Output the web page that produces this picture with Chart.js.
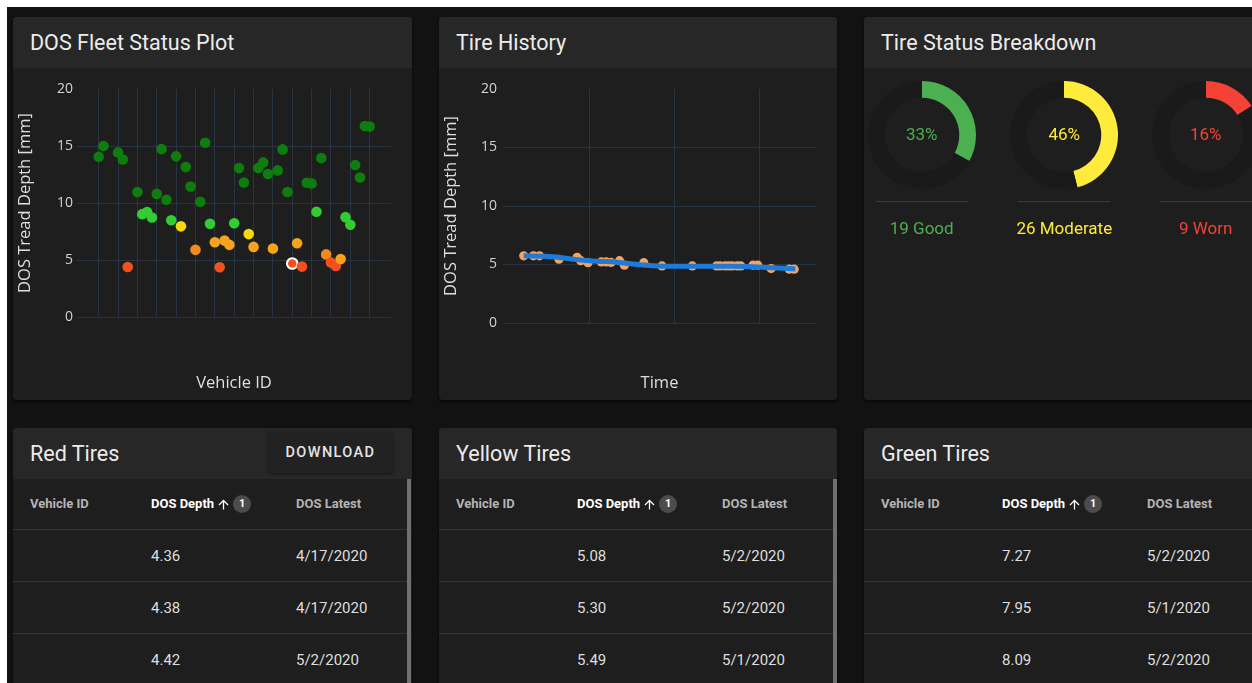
<!DOCTYPE html>
<html>
<head>
<meta charset="utf-8">
<title>DOS Fleet Dashboard</title>
<script src="https://cdn.jsdelivr.net/npm/chart.js@4.4.0/dist/chart.umd.min.js"></script>
<style>
	html, body { margin: 0; padding: 0; }
	body { width: 1252px; height: 683px; overflow: hidden; background: #ffffff; position: relative; font-family: Roboto, "Noto Sans", sans-serif; }
	.page { position: absolute; left: 7px; top: 7px; width: 1245px; height: 676px; background: #121212; }
	.card { position: absolute; background: #1e1e1e; border-radius: 4px; overflow: hidden; box-shadow: 0 2px 3px rgba(0,0,0,0.6); }
	.card__head { position: relative; height: 51px; background: #272727; color: #ececec; font-size: 21.5px; line-height: 51px; padding-left: 17px; }
	.card__body { position: absolute; left: 0; top: 51px; right: 0; bottom: 0; }
	.card__body canvas { position: absolute; left: 0; top: 0; }
	.btn { position: absolute; left: 255px; top: 4px; width: 125px; height: 41px; background: #222222; border-radius: 4px; box-shadow: 0 1px 3px rgba(0,0,0,0.5); color: #e4e4e4; font-size: 14.5px; font-weight: 500; letter-spacing: 1.4px; line-height: 41px; text-align: center; }
	.donut { position: absolute; width: 108px; height: 108px; }
	.donut__pct { position: absolute; width: 120px; margin-left: -60px; font-size: 17px; text-align: center; line-height: 20px; }
	.donut__line { position: absolute; width: 92px; margin-left: -46px; height: 1px; background: #3a3a3a; }
	.donut__label { position: absolute; width: 140px; margin-left: -70px; font-size: 17px; text-align: center; line-height: 20px; }
	.tbl { position: absolute; left: 0; top: 51px; right: 0; bottom: 0; }
	.tbl__row { position: relative; height: 51px; border-bottom: 1px solid #343434; }
	.tbl__row--head { height: 50px; }
	.tbl__cell { position: absolute; top: 0; line-height: 52px; font-size: 15px; color: #dedede; white-space: nowrap; }
	.tbl__row--head .tbl__cell { line-height: 50px; font-size: 13px; font-weight: 700; color: #b4b4b4; }
	.tbl__row--head .tbl__cell--sorted { color: #ffffff; display: flex; align-items: center; height: 50px; }
	.sort-arrow { width: 15px; height: 15px; margin-left: 2px; }
	.badge { display: inline-block; width: 18px; height: 18px; border-radius: 9px; background: #4c4c4c; color: #fff; font-size: 11px; line-height: 18px; text-align: center; margin-left: 2px; }
	.scroll { position: absolute; left: 394px; top: 51px; width: 4px; bottom: 0; background: #707070; }
</style>
</head>
<body>
<div class="page"></div>

<div class="card" style="left:13px; top:17px; width:399px; height:383px;">
	<div class="card__head">DOS Fleet Status Plot</div>
	<div class="card__body"><canvas id="fleet" width="399" height="332"></canvas></div>
</div>

<div class="card" style="left:439px; top:17px; width:398px; height:383px;">
	<div class="card__head">Tire History</div>
	<div class="card__body"><canvas id="history" width="398" height="332"></canvas></div>
</div>

<div class="card" id="statusCard" style="left:864px; top:17px; width:400px; height:383px;">
	<div class="card__head">Tire Status Breakdown</div>
</div>

<div class="card" id="redCard" style="left:13px; top:428px; width:399px; height:300px;">
	<div class="card__head">Red Tires<div class="btn">DOWNLOAD</div></div>
</div>

<div class="card" id="yellowCard" style="left:439px; top:428px; width:398px; height:300px;">
	<div class="card__head">Yellow Tires</div>
</div>

<div class="card" id="greenCard" style="left:864px; top:428px; width:400px; height:300px;">
	<div class="card__head">Green Tires</div>
</div>

<script>
//fleet plot: one slot per vehicle, null = no reading
const vehicleDepth = [
	14.06, 15.0, null, null, 14.44, 13.82, 4.38, null, 10.96, 9.02,
	9.2, 8.73, 10.8, 14.73, 10.28, 8.49, 14.09, 7.95, 13.15, 11.45,
	5.89, 10.1, 15.29, 8.17, 6.56, 4.36, 6.7, 6.33, 8.23, 13.06,
	11.8, 7.27, 6.15, 13.06, 13.56, 12.54, 6.0, 12.86, 14.7, 10.96,
	4.69, 6.47, 4.42, 11.77, 11.72, 9.23, 13.94, 5.49, 4.77, 4.48,
	5.08, 8.76, 8.09, 13.33, 12.24, 16.76, 16.7
]
const vehicleGrid = [0, 4, 8, 12, 16, 20, 24, 28, 32, 36, 40, 44, 48, 52, 56]
const depthTicks = [0, 5, 10, 15, 20]
const selectedVehicle = 40

//tire history of the selected tire (x = days)
const historyDay = [1.6, 2.4, 2.9, 4.5, 6.0, 6.3, 6.9, 8.0, 8.4, 8.8, 9.5, 9.9, 11.5, 13.0, 15.5, 17.5, 17.8, 18.2, 18.5, 18.8, 19.2, 19.5, 20.5, 20.9, 22.0, 23.5, 23.9]
const historyDepth = [5.74, 5.74, 5.74, 5.45, 5.62, 5.33, 5.15, 5.22, 5.22, 5.18, 5.33, 4.94, 5.16, 4.88, 4.88, 4.88, 4.88, 4.88, 4.88, 4.88, 4.88, 4.88, 4.94, 4.94, 4.65, 4.6, 4.6]
const trendDay = [1.6, 3.8, 5.7, 7.6, 9.3, 11.2, 13.1, 18.6, 21.3, 24.0]
const trendDepth = [5.74, 5.68, 5.45, 5.28, 5.2, 4.97, 4.86, 4.84, 4.77, 4.62]
const historyGrid = [7, 14, 21]

//status breakdown
const statusNames = ["Good", "Moderate", "Worn"]
const statusCounts = [19, 26, 9]
const statusPct = [33, 46, 16]

//tables
const tableColumns = ["Vehicle ID", "DOS Depth", "DOS Latest"]
const redDepth = ["4.36", "4.38", "4.42"]
const redLatest = ["4/17/2020", "4/17/2020", "5/2/2020"]
const yellowDepth = ["5.08", "5.30", "5.49"]
const yellowLatest = ["5/2/2020", "5/2/2020", "5/1/2020"]
const greenDepth = ["7.27", "7.95", "8.09"]
const greenLatest = ["5/2/2020", "5/1/2020", "5/2/2020"]

const GRID = "#283442"
const TICK = "#cfd3d8"
const statusColors = ["#4caf50", "#ffeb3b", "#f44336"]

Chart.defaults.font.family = "'Open Sans', sans-serif"
Chart.defaults.animation = false

function depthColor(v) {
	if (v < 5) return "#f4511e"
	if (v < 5.2) return "#f7a31c"
	if (v < 6) return "#f28a1f"
	if (v < 7) return "#f7a31c"
	if (v < 8) return "#f6d90c"
	if (v < 9.5) return "#33cc33"
	return "#0e7d0e"
}

function yAxis(width, pad) {
	return {
		min: 0,
		max: 20,
		afterBuildTicks: s => { s.ticks = depthTicks.map(v => ({ value: v })) },
		afterFit: s => { s.width = width },
		border: { display: false },
		grid: { color: c => c.tick && c.tick.value === 20 ? "rgba(0,0,0,0)" : GRID, drawTicks: false },
		ticks: { color: TICK, font: { size: 14 }, padding: pad },
		title: { display: true, text: "DOS Tread Depth [mm]", color: "#dcdfe3", font: { size: 16.5 }, padding: { top: 2, bottom: 0 } }
	}
}

function xAxis(min, max, grid, height, label) {
	return {
		type: "linear",
		min: min,
		max: max,
		afterBuildTicks: s => { s.ticks = grid.map(v => ({ value: v })) },
		afterFit: s => { s.height = height },
		border: { display: false },
		grid: { color: GRID, drawTicks: false },
		ticks: { display: false },
		title: { display: true, text: label, color: "#dcdfe3", font: { size: 16.5 }, padding: { top: 0, bottom: 7 } }
	}
}

//renderFleetPlot
function renderFleetPlot() {
	let points = []
	vehicleDepth.forEach((v, i) => {
		if (v !== null) points.push({ x: i, y: v })
	})
	new Chart(document.getElementById("fleet"), {
		type: "scatter",
		data: {
			datasets: [{
				data: points,
				pointRadius: 5.3,
				backgroundColor: c => c.raw ? depthColor(c.raw.y) : "#888",
				borderColor: c => c.raw && c.raw.x === selectedVehicle ? "#ffffff" : "rgba(0,0,0,0)",
				borderWidth: c => c.raw && c.raw.x === selectedVehicle ? 2 : 0
			}]
		},
		options: {
			responsive: false,
			devicePixelRatio: 1,
			layout: { padding: { top: 21, right: 21, left: 0, bottom: 0 } },
			plugins: { legend: { display: false }, tooltip: { enabled: false } },
			scales: {
				x: xAxis(-4.48, 60.4, vehicleGrid, 83, "Vehicle ID"),
				y: yAxis(64, 4)
			}
		}
	})
}

//renderTireHistory
function renderTireHistory() {
	let points = historyDay.map((d, i) => ({ x: d, y: historyDepth[i] }))
	let trend = trendDay.map((d, i) => ({ x: d, y: trendDepth[i] }))
	new Chart(document.getElementById("history"), {
		type: "scatter",
		data: {
			datasets: [{
				type: "line",
				data: trend,
				order: 0,
				borderColor: "#1f7bd8",
				borderWidth: 5,
				pointRadius: 0,
				cubicInterpolationMode: "monotone",
				fill: false
			}, {
				data: points,
				order: 1,
				pointRadius: 4.6,
				backgroundColor: "#f2a462",
				borderWidth: 0
			}]
		},
		options: {
			responsive: false,
			devicePixelRatio: 1,
			layout: { padding: { top: 21, right: 21, left: 0, bottom: 0 } },
			plugins: { legend: { display: false }, tooltip: { enabled: false } },
			scales: {
				x: xAxis(-0.11, 25.7, historyGrid, 77, "Time"),
				y: yAxis(64, 6)
			}
		}
	})
}

//renderStatusBreakdown
function renderStatusBreakdown() {
	let card = document.getElementById("statusCard")
	let centers = [57.7, 200.3, 341.7]
	statusNames.forEach((name, i) => {
		let cx = centers[i]
		let canvas = document.createElement("canvas")
		canvas.className = "donut"
		canvas.width = 108
		canvas.height = 108
		canvas.style.left = (cx - 54) + "px"
		canvas.style.top = "64px"
		card.appendChild(canvas)

		let pct = document.createElement("div")
		pct.className = "donut__pct"
		pct.style.left = cx + "px"
		pct.style.top = "107px"
		pct.style.color = statusColors[i]
		pct.textContent = statusPct[i] + "%"
		card.appendChild(pct)

		let line = document.createElement("div")
		line.className = "donut__line"
		line.style.left = cx + "px"
		line.style.top = "184px"
		card.appendChild(line)

		let label = document.createElement("div")
		label.className = "donut__label"
		label.style.left = cx + "px"
		label.style.top = "201px"
		label.style.color = statusColors[i]
		label.textContent = statusCounts[i] + " " + name
		card.appendChild(label)

		new Chart(canvas, {
			type: "doughnut",
			data: {
				labels: [name, ""],
				datasets: [{
					data: [statusPct[i], 100 - statusPct[i]],
					backgroundColor: [statusColors[i], "#1a1a1a"],
					borderWidth: 0
				}]
			},
			options: {
				responsive: false,
				devicePixelRatio: 1,
				cutout: "69%",
				events: [],
				plugins: { legend: { display: false }, tooltip: { enabled: false } }
			}
		})
	})
}

//renderTable
function renderTable(cardId, depths, latest, scroll) {
	let card = document.getElementById(cardId)
	let colX = [17, 138, 283]
	let html = "<div class='tbl'><div class='tbl__row tbl__row--head'>"
	html += "<div class='tbl__cell' style='left:" + colX[0] + "px'>" + tableColumns[0] + "</div>"
	html += "<div class='tbl__cell tbl__cell--sorted' style='left:" + colX[1] + "px'>" + tableColumns[1]
	html += "<svg class='sort-arrow' viewBox='0 0 24 24'><path fill='#ffffff' d='M4 12l1.41 1.41L11 7.83V20h2V7.83l5.58 5.59L20 12l-8-8-8 8z'/></svg>"
	html += "<span class='badge'>1</span></div>"
	html += "<div class='tbl__cell' style='left:" + colX[2] + "px'>" + tableColumns[2] + "</div></div>"
	depths.forEach((d, i) => {
		html += "<div class='tbl__row'>"
		html += "<div class='tbl__cell' style='left:" + colX[1] + "px'>" + d + "</div>"
		html += "<div class='tbl__cell' style='left:" + colX[2] + "px'>" + latest[i] + "</div>"
		html += "</div>"
	})
	html += "</div>"
	if (scroll) html += "<div class='scroll'></div>"
	card.insertAdjacentHTML("beforeend", html)
}

renderFleetPlot()
renderTireHistory()
renderStatusBreakdown()
renderTable("redCard", redDepth, redLatest, true)
renderTable("yellowCard", yellowDepth, yellowLatest, true)
renderTable("greenCard", greenDepth, greenLatest, false)
</script>
</body>
</html>
